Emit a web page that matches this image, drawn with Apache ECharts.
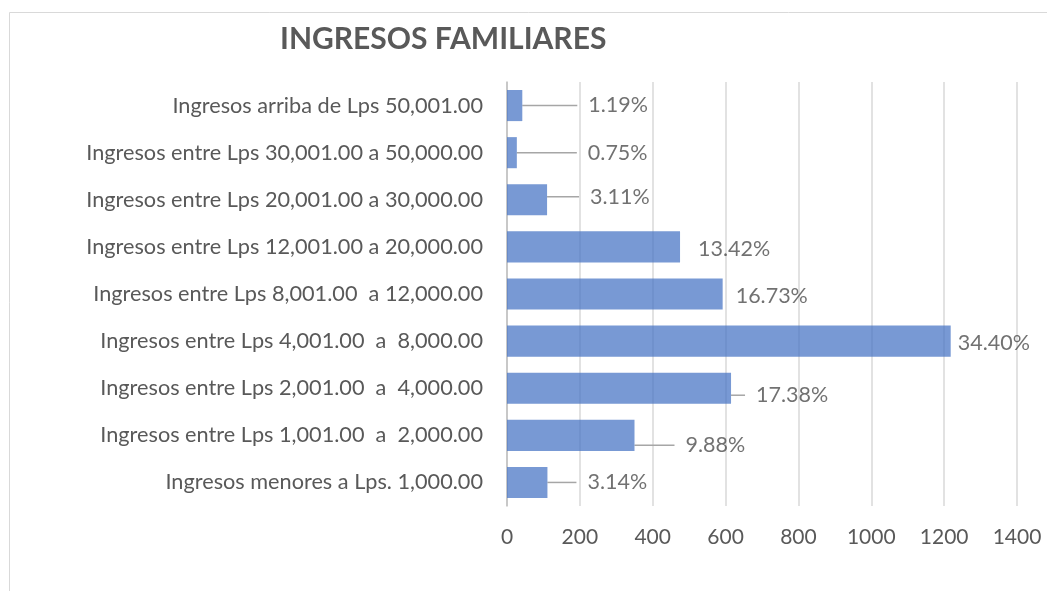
<!DOCTYPE html>
<html lang="es">
<head>
    <meta charset="UTF-8">
    <title>Ingresos familiares</title>
    <script src="https://cdn.jsdelivr.net/npm/echarts@6/dist/echarts.min.js"></script>
    <style>
        html, body { margin: 0; padding: 0; background: #fff; }
    </style>
</head>
<body>
<div id="main" style="width: 1047px; height: 591px;"></div>
<script type="text/javascript">
    // categorias, de arriba hacia abajo como en la figura
    var categorias = [
        'Ingresos arriba de Lps 50,001.00',
        'Ingresos entre Lps 30,001.00 a 50,000.00',
        'Ingresos entre Lps 20,001.00 a 30,000.00',
        'Ingresos entre Lps 12,001.00 a 20,000.00',
        'Ingresos entre Lps 8,001.00  a 12,000.00',
        'Ingresos entre Lps 4,001.00  a  8,000.00',
        'Ingresos entre Lps 2,001.00  a  4,000.00',
        'Ingresos entre Lps 1,001.00  a  2,000.00',
        'Ingresos menores a Lps. 1,000.00'
    ];
    // frecuencias
    var frecuencias = [42, 27, 110, 475, 592, 1218, 615, 350, 111];
    // porcentajes mostrados en las etiquetas
    var porcentajes = ['1.19%', '0.75%', '3.11%', '13.42%', '16.73%', '34.40%', '17.38%', '9.88%', '3.14%'];
    var ticksX = [0, 1400, 200];

    // desplazamiento de cada etiqueta (dx, dy) y si lleva linea guia
    var desplazamientos = [[50, 0], [55, 0], [27, -3], [2, 2], [-3, 2], [-9, 2], [9, 7], [35, 10], [24, 0]];
    var conLinea = [true, true, true, false, false, false, true, true, true];

    var myChart = echarts.init(document.getElementById('main'));

    var datos = frecuencias.map(function (v, i) {
        return {value: v, labelLine: {show: conLinea[i]}};
    });

    var option = {
        backgroundColor: '#ffffff',
        animation: false,
        title: {
            text: 'INGRESOS FAMILIARES',
            left: 275,
            top: 19,
            textStyle: {
                fontFamily: 'Lato',
                fontWeight: 'bold',
                fontSize: 30,
                color: '#595959'
            }
        },
        // borde del area del grafico
        graphic: [{
            type: 'rect',
            left: 7,
            top: 10,
            shape: {width: 1200, height: 700},
            style: {fill: 'none', stroke: '#d9d9d9', lineWidth: 1},
            silent: true
        }],
        grid: {left: 507, right: 30, top: 82, bottom: 85},
        xAxis: {
            type: 'value',
            min: ticksX[0],
            max: ticksX[1],
            interval: ticksX[2],
            axisLine: {show: false},
            axisTick: {show: false},
            axisLabel: {
                margin: 21,
                fontFamily: 'Lato',
                fontSize: 21,
                color: '#595959',
                formatter: function (v) { return String(v); }
            },
            splitLine: {lineStyle: {color: '#d9d9d9', width: 1.5}}
        },
        yAxis: {
            type: 'category',
            inverse: true,
            data: categorias,
            axisLine: {lineStyle: {color: '#bfbfbf', width: 1.5}},
            axisTick: {show: false},
            axisLabel: {
                margin: 24,
                fontFamily: 'Lato',
                fontSize: 21.7,
                color: '#595959'
            }
        },
        series: [{
            type: 'bar',
            data: datos,
            barCategoryGap: '34%',
            itemStyle: {color: '#4472C4', opacity: 0.72},
            label: {
                show: true,
                position: 'right',
                distance: 5,
                fontFamily: 'Lato',
                fontSize: 21.5,
                color: '#3a3a3a',
                formatter: function (p) {
                    // dos espacios: separacion entre la linea guia y el texto
                    return '  ' + porcentajes[p.dataIndex];
                }
            },
            labelLine: {
                show: true,
                lineStyle: {color: '#a6a6a6', width: 1.5}
            },
            labelLayout: function (p) {
                var d = desplazamientos[p.dataIndex];
                return {dx: d[0], dy: d[1]};
            }
        }]
    };
    myChart.setOption(option);
</script>
</body>
</html>
